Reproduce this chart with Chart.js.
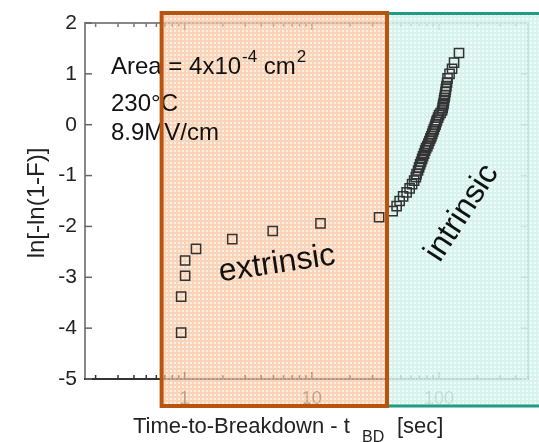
<!DOCTYPE html>
<html><head><meta charset="utf-8">
<script src="https://cdn.jsdelivr.net/npm/chart.js@4"></script>
<style>html,body{margin:0;padding:0;background:#fff}#wrap{width:539px;height:442px}</style>
</head><body><div id="wrap"><canvas id="c" width="539" height="442"></canvas></div>
<script>
// Weibull plot data: time-to-breakdown [sec] vs ln[-ln(1-F)]
const extrinsicTime = [0.94, 0.94, 1.01, 1.01, 1.23, 2.37, 4.93, 11.7, 33.8];
const extrinsicY = [-4.09, -3.38, -2.97, -2.67, -2.44, -2.25, -2.09, -1.94, -1.82];
const intrinsicTime = [43.2, 46.4, 49.0, 52.2, 55.6, 58.7, 61.4, 63.7, 65.7, 66.6,
  68.4, 69.7, 71.0, 72.3, 73.6, 74.9, 76.3, 77.7, 79.1, 80.9,
  82.4, 83.9, 85.5, 87.0, 88.4, 89.7, 91.0, 92.5, 93.9, 95.1,
  96.4, 98.2, 100, 102.8, 105.6, 106.7, 107.5, 108.5, 109.4, 110.3,
  111.3, 112.3, 113.1, 114.3, 115.6, 116.6, 120.9, 126.5, 131.2, 143.5];
const intrinsicY = [-1.70, -1.60, -1.50, -1.41, -1.33, -1.25, -1.17, -1.10, -1.03, -0.97,
  -0.90, -0.84, -0.78, -0.73, -0.67, -0.62, -0.57, -0.51, -0.46, -0.42,
  -0.37, -0.32, -0.27, -0.23, -0.18, -0.13, -0.09, -0.04, 0.00, 0.05,
  0.09, 0.14, 0.19, 0.23, 0.28, 0.33, 0.38, 0.42, 0.48, 0.53,
  0.58, 0.64, 0.70, 0.76, 0.83, 0.91, 1.00, 1.10, 1.22, 1.41];
const xMajorTicks = [1, 10, 100];
const xMinorTicks = [0.2, 0.3, 0.4, 0.5, 0.6, 0.7, 0.8, 0.9, 2, 3, 4, 5, 6, 7, 8, 9,
  20, 30, 40, 50, 60, 70, 80, 90, 200, 300, 400, 500];
const yTickLabels = [-5, -4, -3, -2, -1, 0, 1, 2];
const extrinsicRange = [0.66, 39];   // shaded "extrinsic" region (time)
const intrinsicStart = 39;            // shaded "intrinsic" region start

const toPts = (xs, ys) => xs.map((x, i) => ({x: x, y: ys[i]}));

function makePattern(ctx, bg, line, period, lw) {
  const c = document.createElement('canvas');
  c.width = c.height = period;
  const g = c.getContext('2d');
  g.fillStyle = bg; g.fillRect(0, 0, period, period);
  g.fillStyle = line; g.fillRect(0, 0, period, lw); g.fillRect(0, 0, lw, period);
  return ctx.createPattern(c, 'repeat');
}

const decor = {
  id: 'decor',
  beforeDatasetsDraw(chart) {
    const {ctx, chartArea: a, scales: {x, y}} = chart;
    ctx.save();
    // frame
    ctx.lineWidth = 2;
    ctx.strokeStyle = '#888';
    ctx.beginPath();
    ctx.moveTo(a.left, a.bottom); ctx.lineTo(a.left, a.top); ctx.lineTo(a.right, a.top); ctx.lineTo(a.right, a.bottom);
    ctx.stroke();
    ctx.strokeStyle = '#333';
    ctx.beginPath(); ctx.moveTo(a.left - 1, a.bottom); ctx.lineTo(a.right + 1, a.bottom); ctx.stroke();
    // inward ticks
    ctx.lineWidth = 1.5;
    x.ticks.forEach(t => {
      const px = x.getPixelForValue(t.value);
      const len = xMajorTicks.includes(t.value) ? 7 : 4;
      ctx.strokeStyle = '#333';
      ctx.beginPath(); ctx.moveTo(px, a.bottom); ctx.lineTo(px, a.bottom - len); ctx.stroke();
      ctx.strokeStyle = '#777';
      ctx.beginPath(); ctx.moveTo(px, a.top); ctx.lineTo(px, a.top + len); ctx.stroke();
    });
    y.ticks.forEach(t => {
      const py = y.getPixelForValue(t.value);
      const len = Number.isInteger(t.value) ? 7 : 5;
      ctx.strokeStyle = '#666';
      ctx.beginPath(); ctx.moveTo(a.left, py); ctx.lineTo(a.left + len, py); ctx.stroke();
      ctx.strokeStyle = '#777';
      ctx.beginPath(); ctx.moveTo(a.right, py); ctx.lineTo(a.right - len, py); ctx.stroke();
    });
    // shaded regions
    const x0 = x.getPixelForValue(extrinsicRange[0]);
    const x1 = x.getPixelForValue(extrinsicRange[1]);
    const xi = x.getPixelForValue(intrinsicStart);
    const top = a.top - 10, bot = a.bottom + 27;
    ctx.globalAlpha = 0.68;
    ctx.fillStyle = makePattern(ctx, 'rgb(254,232,215)', 'rgb(248,192,152)', 4, 2);
    ctx.fillRect(x0, top, x1 - x0, bot - top);
    ctx.globalAlpha = 0.85;
    ctx.fillStyle = makePattern(ctx, 'rgb(241,252,250)', 'rgb(208,241,236)', 4, 2);
    ctx.fillRect(xi, top, chart.width - xi, bot - top);
    ctx.restore();
  },
  afterDraw(chart) {
    const {ctx, chartArea: a, scales: {x}} = chart;
    const x0 = x.getPixelForValue(extrinsicRange[0]);
    const x1 = x.getPixelForValue(extrinsicRange[1]);
    const xi = x.getPixelForValue(intrinsicStart);
    const top = a.top - 10, bot = a.bottom + 27;
    ctx.save();
    ctx.fillStyle = '#111';
    ctx.textBaseline = 'alphabetic';
    // annotations
    let tx = 111;
    ctx.font = '24px "Liberation Sans", Arial, sans-serif';
    ctx.fillText('Area = 4x10', tx, 74); tx += ctx.measureText('Area = 4x10').width + 1;
    ctx.font = '17px "Liberation Sans", Arial, sans-serif';
    ctx.fillText('-4', tx, 62); tx += ctx.measureText('-4').width;
    ctx.font = '24px "Liberation Sans", Arial, sans-serif';
    ctx.fillText(' cm', tx, 74); tx += ctx.measureText(' cm').width + 1;
    ctx.font = '17px "Liberation Sans", Arial, sans-serif';
    ctx.fillText('2', tx, 62);
    ctx.font = '24px "Liberation Sans", Arial, sans-serif';
    ctx.fillText('230°C', 111, 111);
    ctx.fillText('8.9MV/cm', 111, 140);
    // region labels
    ctx.font = '32px "Liberation Sans", Arial, sans-serif';
    ctx.textAlign = 'center'; ctx.textBaseline = 'middle';
    ctx.save(); ctx.translate(277, 264); ctx.rotate(-8.5 * Math.PI / 180); ctx.fillText('extrinsic', 0, 0); ctx.restore();
    ctx.save(); ctx.translate(462, 213); ctx.rotate(-57 * Math.PI / 180); ctx.fillText('intrinsic', 0, 0); ctx.restore();
    // y title
    ctx.font = '24px "Liberation Sans", Arial, sans-serif';
    ctx.fillStyle = '#222';
    ctx.save(); ctx.translate(37, 203); ctx.rotate(-Math.PI / 2); ctx.fillText('ln[-ln(1-F)]', 0, 0); ctx.restore();
    // x title
    ctx.textAlign = 'left'; ctx.textBaseline = 'alphabetic';
    ctx.font = '22px "Liberation Sans", Arial, sans-serif';
    ctx.fillText('Time-to-Breakdown - t', 133, 433);
    ctx.font = '16px "Liberation Sans", Arial, sans-serif';
    ctx.fillText('BD', 362, 442);
    ctx.font = '22px "Liberation Sans", Arial, sans-serif';
    ctx.fillText('[sec]', 397, 433);
    // region borders
    ctx.lineWidth = 3;
    ctx.strokeStyle = '#1f9e82';
    ctx.beginPath(); ctx.moveTo(xi, top + 0.5); ctx.lineTo(chart.width, top + 0.5); ctx.stroke();
    ctx.beginPath(); ctx.moveTo(xi, bot); ctx.lineTo(chart.width, bot); ctx.stroke();
    ctx.lineWidth = 4;
    ctx.strokeStyle = '#b9540f';
    ctx.strokeRect(x0, top, x1 - x0, bot - top);
    ctx.restore();
  }
};

new Chart(document.getElementById('c'), {
  type: 'scatter',
  data: {
    datasets: [
      {data: toPts(extrinsicTime, extrinsicY)},
      {data: toPts(intrinsicTime, intrinsicY)}
    ]
  },
  options: {
    responsive: false, animation: false, devicePixelRatio: 1,
    layout: {padding: {top: 23, right: 11, left: 0, bottom: 0}},
    elements: {point: {pointStyle: 'rect', radius: 6.5, borderWidth: 1.5, borderColor: '#333', backgroundColor: 'rgba(0,0,0,0)'}},
    plugins: {legend: {display: false}, tooltip: {enabled: false}},
    scales: {
      x: {
        type: 'logarithmic', min: 0.165, max: 500,
        afterBuildTicks: s => { s.ticks = xMinorTicks.concat(xMajorTicks).sort((a, b) => a - b).map(v => ({value: v, major: xMajorTicks.includes(v)})); },
        afterFit: s => { s.height = 63; },
        grid: {display: false, drawTicks: false}, border: {display: false},
        ticks: {autoSkip: false, maxRotation: 0, padding: 9, color: '#555',
          font: {family: '"Liberation Sans", Arial, sans-serif', size: 18},
          callback: v => xMajorTicks.includes(v) ? String(v) : ''}
      },
      y: {
        min: -5, max: 2,
        afterFit: s => { s.width = 85; },
        grid: {display: false, drawTicks: false}, border: {display: false},
        ticks: {stepSize: 0.5, padding: 8, color: '#222',
          font: {family: '"Liberation Sans", Arial, sans-serif', size: 21},
          callback: v => yTickLabels.includes(v) ? String(v) : ''}
      }
    }
  },
  plugins: [decor]
});
</script></body></html>
